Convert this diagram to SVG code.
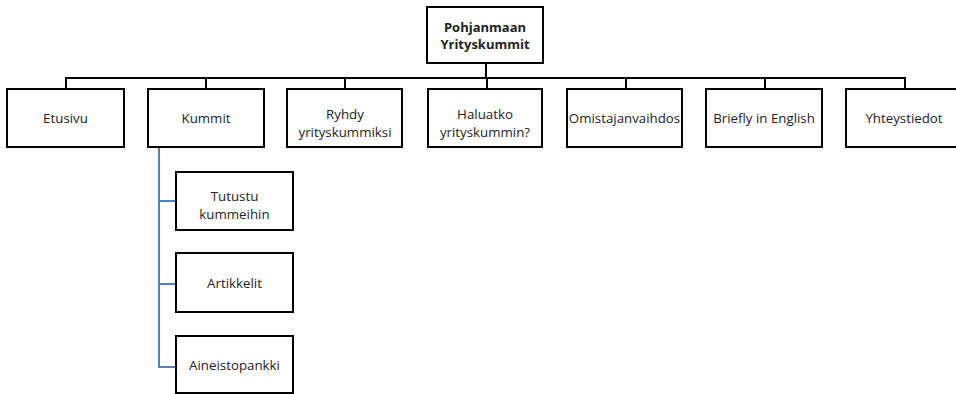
<svg xmlns="http://www.w3.org/2000/svg" width="956" height="394" viewBox="0 0 956 394">
<style>
.box{fill:#fff;stroke:#000;stroke-width:2}
.t{font-family:"Open Sans","Noto Sans",sans-serif;font-size:13.3px;fill:#222;text-anchor:middle}
.b{font-weight:bold;font-size:13px}
.c{fill:none;stroke:#000;stroke-width:2}
.bl{fill:none;stroke:#4f81bd;stroke-width:2}
</style>
<rect width="956" height="394" fill="#fff"/>
<g id="connectors">
<path class="c" d="M486 63V78" stroke-width="3"/>
<path class="c" d="M66 89V78H905V89" stroke-width="2.5"/>
<path class="c" d="M206 78V89M345 78V89M487 78V89M626 78V89M765 78V89"/>
<path class="bl" d="M159 147V367H176M159 201H176M159 284H176"/>
</g>
<g id="root"><rect class="box" x="427" y="7" width="116" height="56"/><text class="t b" x="485" y="32">Pohjanmaan</text><text class="t b" x="485" y="49">Yrityskummit</text></g>
<g id="etusivu"><rect class="box" x="7" y="89" width="117" height="58"/><text class="t" x="65.5" y="123">Etusivu</text></g>
<g id="kummit"><rect class="box" x="148" y="89" width="116" height="58"/><text class="t" x="206" y="123">Kummit</text></g>
<g id="ryhdy"><rect class="box" x="287" y="89" width="115" height="58"/><text class="t" x="345" y="119">Ryhdy</text><text class="t" x="345" y="137">yrityskummiksi</text></g>
<g id="haluatko"><rect class="box" x="428" y="89" width="114" height="58"/><text class="t" x="485" y="119">Haluatko</text><text class="t" x="485" y="137">yrityskummin?</text></g>
<g id="omistajanvaihdos"><rect class="box" x="567" y="89" width="115" height="58"/><text class="t" x="624.5" y="123">Omistajanvaihdos</text></g>
<g id="briefly"><rect class="box" x="706" y="89" width="116" height="58"/><text class="t" x="764" y="123">Briefly in English</text></g>
<g id="yhteystiedot"><rect class="box" x="846" y="89" width="117" height="58"/><text class="t" x="904" y="123">Yhteystiedot</text></g>
<g id="tutustu"><rect class="box" x="176" y="172" width="117" height="58"/><text class="t" x="234.5" y="201">Tutustu</text><text class="t" x="234.5" y="219">kummeihin</text></g>
<g id="artikkelit"><rect class="box" x="176" y="253" width="117" height="59"/><text class="t" x="234.5" y="288">Artikkelit</text></g>
<g id="aineistopankki"><rect class="box" x="176" y="336" width="117" height="57"/><text class="t" x="234.5" y="370">Aineistopankki</text></g>
</svg>
